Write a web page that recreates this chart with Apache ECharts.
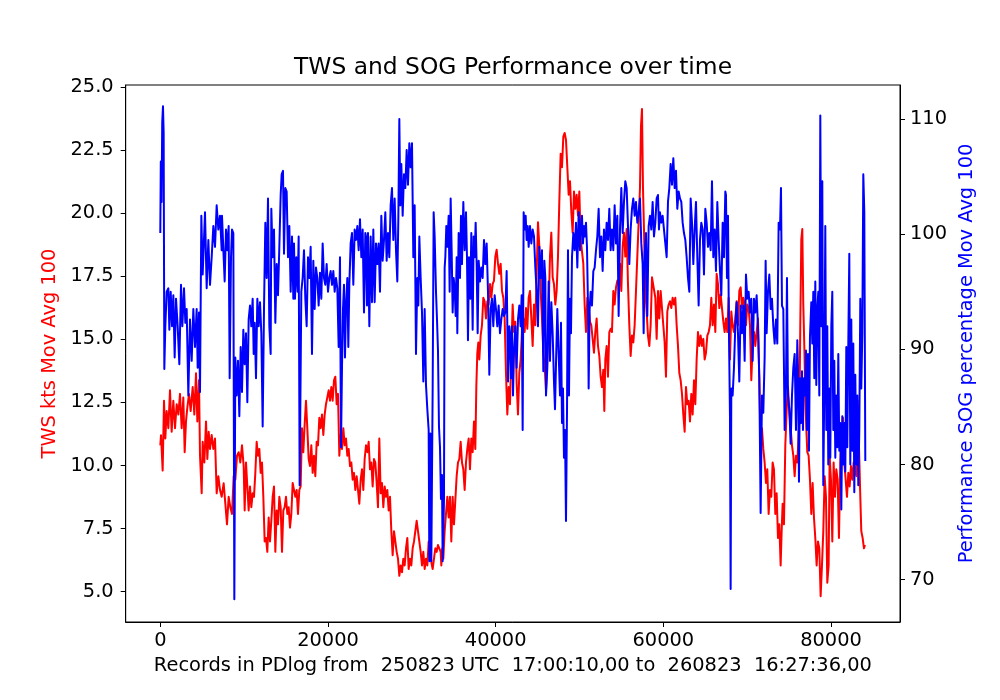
<!DOCTYPE html>
<html>
<head>
<meta charset="utf-8">
<script src="https://cdn.jsdelivr.net/npm/echarts@6/dist/echarts.min.js"></script>
<style>
  html, body { margin: 0; padding: 0; background: #fff; }
  #chart { width: 1000px; height: 700px; }
</style>
</head>
<body>
<div id="chart"></div>
<script>
// TWS moving average (kts) : [record, value]
const twsKts = [
  [0,10.8],[84,11.2],[283,9.8],[442,12.57],[601,11.07],[760,12.16],[959,11.48],[1157,12.98],[1356,11.34],[1555,12.57],
  [1754,11.48],[1953,12.43],[2152,12.02],[2350,12.84],[2549,11.48],[2748,12.7],[2907,10.53],[3066,11.75],[3225,12.3],[3424,12.84],
  [3623,12.16],[3862,13.11],[4060,12.02],[4259,13.66],[4418,11.75],[4617,13.38],[4736,10.39],[4935,8.9],[5054,10.94],[5253,10.12],
  [5452,11.75],[5611,10.26],[5770,11.34],[5929,10.66],[6128,11.21],[6326,10.66],[6525,11.07],[6724,8.9],[6923,9.58],[7122,9.03],
  [7320,8.76],[7558,9.3],[7757,8.49],[7955,7.67],[8154,8.76],[8353,8.35],[8552,8.08],[8751,9.58],[8949,9.44],[9148,10.39],
  [9347,10.53],[9546,10.12],[9745,10.8],[9943,9.98],[10063,8.22],[10222,10.12],[10381,9.17],[10540,8.22],[10699,9.17],[10858,8.35],
  [11017,8.9],[11176,8.76],[11335,9.71],[11494,10.94],[11653,10.39],[11812,10.66],[11971,9.71],[12130,10.12],[12289,8.76],[12448,6.99],
  [12607,7.13],[12766,6.58],[12925,7.94],[13084,6.99],[13243,7.81],[13403,8.76],[13562,9.17],[13721,6.58],[13880,8.22],[14039,7.67],
  [14198,8.76],[14357,8.35],[14516,6.58],[14675,8.22],[14834,8.35],[14993,8.76],[15152,8.08],[15311,8.35],[15470,7.54],[15629,8.08],
  [15788,9.31],[15946,9.31],[16105,8.76],[16264,9.03],[16423,8.08],[16582,9.03],[16741,9.17],[16900,11.48],[17059,10.53],[17218,11.62],
  [17377,12.57],[17536,11.48],[17695,10.26],[17854,9.98],[18014,10.8],[18173,9.71],[18332,10.39],[18491,9.58],[18650,10.94],[18809,10.8],
  [18968,11.89],[19127,11.48],[19286,12.02],[19445,11.21],[19604,12.02],[19763,12.43],[19922,12.7],[20081,12.98],[20240,12.57],[20399,13.11],
  [20558,12.57],[20717,13.38],[20876,13.52],[21035,12.43],[21194,12.84],[21353,10.39],[21512,11.21],[21671,10.66],[21830,11.48],[21990,10.8],
  [22149,11.07],[22308,10.39],[22467,10.66],[22626,9.98],[22785,10.12],[22944,9.44],[23103,9.71],[23262,9.03],[23421,9.58],[23580,9.03],
  [23739,8.49],[23898,9.44],[24057,9.85],[24216,9.03],[24375,10.26],[24534,10.8],[24693,10.53],[24852,10.94],[25011,9.85],[25170,10.12],
  [25329,9.17],[25488,10.26],[25647,10.12],[25806,9.31],[25965,8.35],[26124,11.07],[26283,8.9],[26442,9.31],[26602,8.35],[26761,9.17],
  [26920,8.76],[27079,9.03],[27238,8.22],[27397,8.76],[27556,7.4],[27715,6.45],[27874,7.4],[28033,6.99],[28192,6.58],[28351,6.31],
  [28510,5.63],[28669,6.04],[28828,5.77],[28987,6.31],[29146,6.04],[29305,6.72],[29464,7.13],[29623,5.9],[29782,6.31],[29941,6.04],
  [30100,6.72],[30259,6.99],[30418,7.4],[30578,7.81],[30737,7.4],[30896,6.99],[31055,6.58],[31214,6.04],[31373,6.58],[31532,5.9],
  [31691,6.31],[31850,6.04],[32009,6.99],[32168,6.72],[32327,6.17],[32486,5.9],[32645,6.31],[32804,6.72],[32963,6.58],[33121,6.85],
  [33280,6.72],[33439,6.58],[33519,6.04],[33638,6.72],[33757,6.31],[33916,7.4],[34075,8.08],[34234,8.76],[34393,7.94],[34552,8.76],
  [34711,6.99],[34870,8.76],[35029,7.67],[35189,8.62],[35348,9.58],[35507,10.12],[35666,10.26],[35825,10.94],[35984,10.12],[36143,9.85],
  [36302,9.03],[36461,10.12],[36620,10.66],[36779,11.07],[36938,9.85],[37097,11.07],[37256,10.53],[37415,11.75],[37574,10.66],[37693,13.11],
  [37813,14.47],[37932,14.88],[38051,14.2],[38210,15.15],[38369,15.56],[38528,16.65],[38687,16.51],[38846,15.83],[39005,16.51],[39164,16.38],
  [39324,17.19],[39483,16.65],[39642,17.19],[39801,17.33],[39960,18.28],[40119,18.55],[40278,18.0],[40437,17.6],[40596,18.0],[40755,16.92],
  [40914,16.65],[41073,15.83],[41232,13.66],[41391,12.02],[41550,13.11],[41709,12.43],[41868,14.47],[42027,16.38],[42186,15.29],[42345,15.7],
  [42504,13.25],[42663,12.02],[42822,13.66],[42981,14.2],[43140,15.29],[43299,15.83],[43458,15.29],[43617,16.24],[43777,15.42],[43936,16.65],
  [44095,16.92],[44254,15.83],[44413,14.74],[44572,16.38],[44731,15.56],[44890,17.6],[45049,19.64],[45208,18.69],[45367,16.92],[45526,15.83],
  [45685,14.47],[45844,13.93],[46003,12.98],[46162,14.2],[46321,16.24],[46480,18.28],[46639,19.23],[46798,17.46],[46957,17.19],[47116,16.38],
  [47275,16.92],[47434,18.28],[47593,20.46],[47753,22.36],[47912,21.82],[48071,23.04],[48230,23.18],[48389,22.9],[48548,21.82],[48707,20.73],
  [48866,21.27],[49025,20.05],[49184,19.23],[49343,20.86],[49502,20.18],[49661,20.73],[49820,19.91],[49979,20.86],[50138,18.96],[50296,18.96],
  [50455,18.0],[50614,16.38],[50773,15.29],[50932,16.65],[51091,16.24],[51250,15.7],[51409,15.56],[51568,15.02],[51727,14.47],[51886,15.29],
  [52045,15.83],[52204,14.74],[52364,14.34],[52523,13.52],[52682,13.11],[52841,13.8],[52960,12.16],[53079,14.2],[53238,14.74],[53397,13.52],
  [53556,15.29],[53715,15.42],[53874,15.29],[54033,16.92],[54192,16.38],[54352,17.06],[54511,17.33],[54670,17.19],[54829,18.0],[54988,16.92],
  [55147,18.69],[55306,19.23],[55465,18.28],[55624,19.37],[55783,17.19],[55942,15.56],[56101,14.34],[56260,15.15],[56419,14.88],[56578,15.56],
  [56737,16.92],[56896,18.28],[57055,19.64],[57214,21.0],[57334,23.45],[57453,24.13],[57572,21.0],[57691,19.37],[57850,16.92],[58009,16.1],
  [58168,15.15],[58327,14.74],[58487,15.56],[58646,17.46],[58884,17.46],[59043,16.65],[59202,15.02],[59361,16.92],[59520,15.83],[59679,16.92],
  [59838,16.92],[59997,15.56],[60156,14.88],[60315,13.52],[60474,16.1],[60633,16.38],[60792,16.51],[60952,16.24],[61111,16.65],[61270,16.38],
  [61429,16.65],[61588,15.56],[61747,14.74],[61906,13.66],[62065,13.38],[62224,12.84],[62383,12.02],[62542,11.34],[62701,13.11],[62860,12.43],
  [63019,12.57],[63178,11.75],[63337,12.84],[63496,12.02],[63655,13.38],[63814,12.43],[63973,14.2],[64132,15.29],[64291,14.74],[64450,15.15],
  [64609,14.74],[64768,15.02],[64928,14.2],[65087,14.47],[65246,15.15],[65405,15.29],[65564,15.56],[65723,16.65],[65882,15.56],[66041,16.38],
  [66200,15.29],[66359,17.6],[66518,17.19],[66677,16.24],[66836,16.78],[66995,16.24],[67154,15.7],[67313,15.29],[67471,15.83],[67630,15.29],
  [67789,16.65],[67948,14.2],[68107,16.1],[68266,15.56],[68425,15.29],[68584,15.83],[68743,16.51],[68902,15.56],[69061,16.92],[69220,17.06],
  [69379,16.24],[69539,16.65],[69698,16.38],[69857,15.56],[70016,16.38],[70175,16.24],[70334,15.56],[70493,13.38],[70652,14.74],[70811,15.29],
  [70970,14.74],[71129,15.29],[71288,15.83],[71447,13.38],[71606,10.8],[71765,11.48],[71924,10.66],[72083,10.12],[72242,9.31],[72401,9.85],
  [72560,8.08],[72719,9.03],[72878,8.76],[73037,10.12],[73196,9.85],[73355,8.08],[73514,8.9],[73674,7.13],[73833,7.67],[73992,6.04],
  [74111,7.4],[74230,8.49],[74389,7.67],[74548,10.8],[74707,12.16],[74866,13.11],[75025,12.16],[75184,11.48],[75344,10.8],[75503,10.39],
  [75662,9.58],[75821,10.39],[75980,10.12],[76217,11.75],[76336,15.56],[76456,18.96],[76575,19.37],[76694,16.38],[76813,14.74],[76933,12.84],
  [77052,11.48],[77171,10.53],[77330,10.39],[77489,9.44],[77648,8.08],[77807,9.31],[77966,7.94],[78126,7.13],[78285,6.04],[78444,6.99],
  [78603,6.72],[78762,4.82],[78921,6.04],[79080,7.4],[79239,9.58],[79398,8.76],[79557,5.36],[79716,6.04],[79835,10.39],[79994,9.44],
  [80153,6.99],[80312,10.12],[80471,8.76],[80630,9.85],[80789,9.44],[80948,7.13],[81108,10.12],[81267,11.21],[81426,11.89],[81585,10.12],
  [81744,9.44],[81903,8.76],[82062,9.71],[82221,9.17],[82380,9.98],[82539,9.44],[82698,10.12],[82857,9.85],[83016,9.58],[83175,12.57],
  [83334,10.8],[83493,8.76],[83612,7.4],[83771,7.13],[83930,6.72],[84050,6.85]
];

// SOG performance moving average (%) : [record, value]
const sogPerf = [
  [0,100.1],[60,106.3],[150,102.8],[230,109.7],[320,111.1],[400,108.8],[480,88.3],[600,92.0],[760,95.0],[960,95.3],
  [1080,91.7],[1240,95.0],[1400,92.0],[1555,94.7],[1714,89.3],[1873,94.4],[2072,92.0],[2271,88.7],[2470,95.6],[2629,92.0],
  [2828,95.3],[2987,92.3],[3146,93.5],[3344,86.0],[3543,92.6],[3742,89.0],[3941,93.5],[4140,90.2],[4338,93.5],[4458,88.4],
  [4617,93.2],[4736,86.3],[4895,101.6],[5054,96.5],[5332,101.9],[5531,95.3],[5730,99.5],[5929,95.6],[6128,98.0],[6326,100.7],
  [6525,98.9],[6724,102.5],[6923,100.4],[7122,101.6],[7320,98.6],[7359,101.6],[7558,98.0],[7677,95.9],[7836,100.4],[7995,98.6],
  [8154,100.7],[8273,87.5],[8433,98.0],[8552,100.4],[8711,100.1],[8830,68.3],[8949,89.3],[9108,86.0],[9267,89.0],[9427,84.2],
  [9586,90.2],[9745,86.3],[9904,91.7],[10063,88.7],[10222,91.4],[10381,85.4],[10540,92.6],[10699,93.8],[10858,92.0],[11017,94.4],
  [11136,89.6],[11255,92.3],[11415,87.5],[11574,94.4],[11733,92.0],[11892,94.1],[12051,91.4],[12210,83.3],[12369,93.5],[12528,101.0],
  [12687,96.2],[12846,103.1],[13005,92.0],[13164,89.6],[13243,102.2],[13403,98.0],[13562,100.4],[13721,92.3],[13880,97.4],[14039,94.7],
  [14198,98.9],[14357,103.4],[14476,105.2],[14635,105.5],[14754,98.3],[14913,104.0],[15072,103.7],[15232,98.0],[15391,100.7],[15550,95.0],
  [15709,99.8],[15868,94.4],[15946,99.2],[16065,94.4],[16224,98.0],[16383,95.0],[16503,99.8],[16622,78.2],[16741,78.2],[16821,95.0],
  [16980,96.2],[17139,98.6],[17298,94.4],[17457,92.0],[17616,98.0],[17775,96.2],[17934,98.9],[18093,89.6],[18252,97.7],[18411,93.5],
  [18570,97.1],[18729,96.2],[18888,93.8],[19047,96.65],[19206,94.4],[19365,99.2],[19524,96.2],[19683,95.6],[19842,97.4],[20002,95.0],
  [20161,96.2],[20320,96.8],[20479,95.6],[20638,96.8],[20797,95.0],[20956,96.2],[21115,95.3],[21274,90.2],[21433,98.0],[21552,81.5],
  [21671,88.4],[21791,93.5],[21910,95.6],[22029,89.3],[22149,93.8],[22308,96.2],[22427,90.2],[22546,95.6],[22705,99.2],[22864,100.1],
  [23023,95.6],[23182,100.4],[23341,99.5],[23500,100.7],[23659,98.6],[23818,101.3],[23978,98.0],[24137,100.4],[24296,93.2],[24455,100.1],
  [24534,99.8],[24653,93.8],[24773,100.1],[24932,92.0],[25091,99.8],[25250,94.1],[25409,100.4],[25568,94.1],[25727,99.2],[25886,97.4],
  [26045,99.2],[26204,95.0],[26363,101.6],[26522,97.7],[26681,99.5],[26840,101.9],[26999,97.7],[27158,100.1],[27317,98.0],[27476,102.5],
  [27635,104.0],[27794,99.5],[27953,103.1],[28112,98.6],[28271,95.9],[28391,101.3],[28510,110.0],[28629,102.5],[28749,106.1],[28908,101.6],
  [29067,105.2],[29226,104.0],[29385,107.3],[29544,104.3],[29703,107.9],[29862,105.8],[30021,107.9],[30180,98.0],[30339,102.5],[30498,89.6],
  [30657,96.2],[30776,93.8],[30896,99.8],[31055,96.2],[31214,93.2],[31373,87.2],[31532,93.5],[31691,86.9],[31850,84.8],[32009,83.0],
  [32088,71.6],[32208,82.7],[32327,71.6],[32486,86.6],[32605,101.9],[32725,99.8],[32884,95.0],[33003,92.6],[33121,89.9],[33240,83.3],
  [33360,81.5],[33479,77.0],[33598,79.1],[33678,71.6],[33757,74.0],[33837,77.0],[33916,97.1],[33996,98.0],[34115,100.7],[34234,98.9],
  [34393,101.6],[34513,95.0],[34632,103.1],[34751,98.6],[34870,93.2],[34990,96.2],[35109,95.3],[35229,92.9],[35348,98.0],[35427,91.4],
  [35586,100.1],[35745,96.2],[35864,101.6],[35984,97.4],[36143,102.8],[36302,98.6],[36461,101.9],[36580,98.0],[36699,90.8],[36819,98.0],
  [36978,94.4],[37097,100.1],[37256,91.7],[37375,99.8],[37495,98.0],[37614,101.0],[37733,97.4],[37852,91.4],[37972,97.7],[38131,95.9],
  [38290,97.1],[38449,96.2],[38608,99.5],[38767,97.4],[38926,99.2],[39085,95.0],[39244,87.8],[39403,93.5],[39562,94.4],[39721,92.0],
  [39880,94.7],[40039,93.5],[40198,92.0],[40357,93.8],[40516,91.4],[40675,92.6],[40834,93.5],[40993,92.9],[41153,93.2],[41312,96.8],
  [41471,87.2],[41630,92.0],[41709,91.4],[41828,87.5],[41948,92.0],[42067,86.0],[42186,89.6],[42345,92.0],[42504,88.4],[42663,92.6],
  [42822,93.8],[42981,92.0],[43101,94.7],[43220,83.0],[43339,101.9],[43458,100.4],[43578,101.6],[43697,99.5],[43816,100.7],[43936,98.9],
  [44095,100.7],[44254,99.2],[44413,100.4],[44572,99.8],[44731,97.1],[44890,95.0],[45049,92.0],[45208,98.9],[45367,96.2],[45526,98.6],
  [45685,88.1],[45804,97.7],[45924,96.2],[46003,86.0],[46162,88.4],[46321,95.9],[46480,89.0],[46639,94.1],[46798,91.4],[46957,87.2],
  [47077,84.8],[47196,88.7],[47355,93.5],[47514,89.6],[47673,86.0],[47792,92.3],[47912,83.6],[48031,86.6],[48150,80.6],[48270,83.0],
  [48389,75.1],[48508,84.5],[48627,98.6],[48747,86.0],[48866,94.4],[48985,91.4],[49104,98.0],[49263,100.1],[49422,98.6],[49582,101.0],
  [49741,97.1],[49900,101.9],[50059,98.6],[50218,101.3],[50296,101.6],[50415,99.2],[50535,100.7],[50654,99.8],[50773,101.0],[50892,98.9],
  [51012,93.8],[51091,86.6],[51210,93.5],[51330,95.0],[51489,93.8],[51648,96.8],[51807,97.1],[51966,98.6],[52125,99.8],[52284,102.2],
  [52443,98.0],[52602,99.8],[52761,96.8],[52920,100.4],[53079,98.6],[53238,101.0],[53397,99.5],[53556,102.2],[53715,98.6],[53874,100.4],
  [54033,98.6],[54192,102.5],[54352,99.2],[54511,101.6],[54670,92.9],[54829,100.4],[54988,104.0],[55147,100.1],[55306,102.8],[55465,104.6],
  [55624,104.0],[55783,100.7],[55942,97.4],[56101,100.4],[56260,102.2],[56419,103.1],[56578,101.6],[56737,102.8],[56896,101.0],[57055,101.9],
  [57214,103.1],[57373,99.2],[57532,97.4],[57652,91.4],[57771,98.3],[57930,100.1],[58089,92.9],[58248,100.7],[58407,101.6],[58566,100.4],
  [58725,102.8],[58884,99.8],[59043,101.0],[59202,103.1],[59361,103.4],[59480,100.4],[59600,101.9],[59759,101.0],[59918,101.6],[60077,100.4],
  [60236,99.2],[60395,98.0],[60554,102.8],[60713,104.0],[60872,106.1],[61031,104.3],[61190,106.6],[61349,104.0],[61508,105.5],[61667,102.2],
  [61826,103.7],[61985,103.1],[62144,102.8],[62303,101.0],[62462,100.1],[62621,99.5],[62780,98.0],[62940,96.2],[63099,95.0],[63258,103.1],
  [63417,101.0],[63576,97.4],[63735,100.4],[63894,102.8],[64053,98.0],[64212,93.8],[64371,99.5],[64530,101.0],[64689,100.4],[64848,96.5],
  [65007,102.2],[65166,101.0],[65325,98.9],[65484,100.1],[65643,98.6],[65802,104.6],[65961,98.0],[66120,100.4],[66279,96.8],[66438,102.8],
  [66597,99.5],[66756,96.8],[66916,94.7],[67075,101.0],[67234,98.0],[67393,103.7],[67471,103.4],[67590,96.2],[67710,101.6],[67829,91.4],
  [67948,84.2],[68028,69.2],[68107,86.6],[68266,86.0],[68425,88.4],[68584,92.0],[68743,94.1],[68902,91.4],[69061,87.2],[69220,93.8],
  [69379,91.4],[69539,93.8],[69698,89.0],[69857,96.5],[70016,94.4],[70175,95.0],[70334,93.2],[70493,94.4],[70652,89.0],[70811,94.4],
  [70970,93.2],[71129,94.7],[71288,92.0],[71447,87.5],[71606,75.8],[71765,86.0],[71924,84.5],[72083,89.3],[72202,97.7],[72322,91.4],
  [72481,95.0],[72640,96.5],[72799,93.5],[72958,94.4],[73117,92.0],[73276,90.5],[73435,92.6],[73594,90.5],[73753,101.0],[73912,100.4],
  [74031,104.0],[74151,93.8],[74310,93.5],[74469,83.0],[74628,86.9],[74747,96.2],[74866,86.0],[75025,84.8],[75184,81.8],[75344,86.0],
  [75503,88.4],[75662,89.6],[75821,83.0],[75980,90.8],[76058,88.4],[76177,78.5],[76297,87.5],[76416,83.6],[76535,88.1],[76654,83.0],
  [76774,87.5],[76893,86.0],[77012,89.9],[77132,83.0],[77251,89.6],[77370,81.2],[77489,91.1],[77648,94.1],[77768,90.5],[77887,95.0],
  [78006,87.5],[78126,95.9],[78245,86.9],[78364,93.5],[78483,95.0],[78603,86.0],[78722,110.3],[78841,92.0],[78960,104.6],[79080,78.2],
  [79199,86.6],[79318,100.7],[79438,83.0],[79557,92.0],[79676,80.0],[79795,86.6],[79915,80.6],[80034,92.0],[80153,95.0],[80273,83.0],
  [80392,89.0],[80511,80.6],[80630,86.0],[80750,81.5],[80869,89.6],[80988,81.2],[81108,83.6],[81227,76.1],[81346,84.2],[81465,80.0],
  [81585,83.6],[81704,79.4],[81823,90.2],[81942,81.5],[82062,90.5],[82181,98.3],[82300,80.0],[82420,92.6],[82539,81.2],[82658,90.5],
  [82777,77.6],[82897,87.8],[83016,80.0],[83135,86.0],[83255,78.2],[83374,83.0],[83493,94.4],[83612,86.6],[83732,91.4],[83851,105.2],
  [83970,101.9],[84090,80.3]
];

const xTicks = [0, 20000, 40000, 60000, 80000];
const twsTicks = [5, 7.5, 10, 12.5, 15, 17.5, 20, 22.5, 25];
const sogTicks = [70, 80, 90, 100, 110];

const font = 'DejaVu Sans';
const chart = echarts.init(document.getElementById('chart'));

const option = {
  animation: false,
  backgroundColor: '#ffffff',
  title: {
    text: 'TWS and SOG Performance over time',
    left: 513,
    top: 56,
    textAlign: 'center',
    padding: 0,
    textStyle: { fontFamily: font, fontSize: 23.4, fontWeight: 'normal', color: '#000' }
  },
  grid: {
    left: 125.7, right: 100, top: 85, bottom: 78,
    show: true, borderColor: '#000', borderWidth: 1
  },
  xAxis: {
    type: 'value',
    min: -4127,
    max: 88228,
    name: 'Records in PDlog from  250823 UTC  17:00:10,00 to  260823  16:27:36,00',
    nameLocation: 'middle',
    nameGap: 34,
    nameTextStyle: { fontFamily: font, fontSize: 19.4, color: '#000' },
    axisLine: { onZero: false, lineStyle: { color: '#000', width: 1 } },
    axisTick: { customValues: xTicks, length: 5, lineStyle: { color: '#000' } },
    axisLabel: { customValues: xTicks, margin: 9, fontFamily: font, fontSize: 19.4, color: '#000',
      formatter: v => String(v) },
    splitLine: { show: false }
  },
  yAxis: [{
    type: 'value',
    position: 'left',
    min: 3.8,
    max: 25.08,
    name: 'TWS kts Mov Avg 100',
    nameLocation: 'middle',
    nameRotate: 90,
    nameGap: 60,
    nameTextStyle: { fontFamily: font, fontSize: 19.4, color: '#ff0000' },
    axisLine: { show: true, onZero: false, lineStyle: { color: '#000', width: 1 } },
    axisTick: { show: true, customValues: twsTicks, length: 5, lineStyle: { color: '#000' } },
    axisLabel: { customValues: twsTicks, margin: 12, fontFamily: font, fontSize: 19.4, color: '#000',
      formatter: v => v.toFixed(1) },
    splitLine: { show: false }
  }, {
    type: 'value',
    position: 'right',
    min: 66.33,
    max: 112.95,
    name: 'Performance SOG percentage Mov Avg 100',
    nameLocation: 'middle',
    nameRotate: 90,
    nameGap: 47,
    nameTextStyle: { fontFamily: font, fontSize: 19.4, color: '#0000ff' },
    axisLine: { show: true, onZero: false, lineStyle: { color: '#000', width: 1 } },
    axisTick: { show: true, customValues: sogTicks, length: 5, lineStyle: { color: '#000' } },
    axisLabel: { customValues: sogTicks, margin: 10, fontFamily: font, fontSize: 19.4, color: '#000',
      formatter: v => String(v) },
    splitLine: { show: false }
  }],
  series: [{
    name: 'TWS',
    type: 'line',
    yAxisIndex: 0,
    data: twsKts,
    showSymbol: false,
    symbol: 'none',
    lineStyle: { color: '#ff0000', width: 2, join: 'round' }
  }, {
    name: 'SOG',
    type: 'line',
    yAxisIndex: 1,
    data: sogPerf,
    showSymbol: false,
    symbol: 'none',
    lineStyle: { color: '#0000ff', width: 2, join: 'round' }
  }]
};

chart.setOption(option);
</script>
</body>
</html>
